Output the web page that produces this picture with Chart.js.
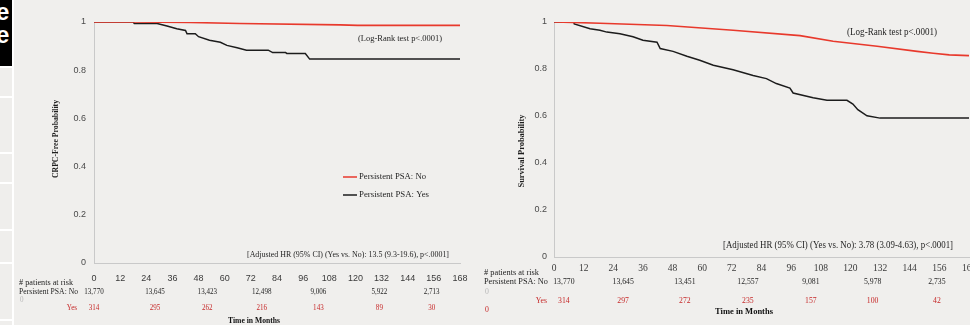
<!DOCTYPE html>
<html><head><meta charset="utf-8">
<script src="https://cdn.jsdelivr.net/npm/chart.js@4/dist/chart.umd.min.js"></script>
<style>
html,body{margin:0;padding:0;width:970px;height:325px;overflow:hidden;background:#f0efed;position:relative;}
#strip{position:absolute;left:0;top:0;width:14px;height:325px;background:#ffffff;overflow:hidden;}
.cell{position:absolute;left:0;width:12px;background:#efeeec;}
#blk{position:absolute;left:0;top:0;width:12px;height:66px;background:#000;overflow:hidden;}
.e{position:absolute;left:-4px;color:#fff;font:bold 24px "Liberation Sans",Arial,sans-serif;line-height:24px;}
canvas{position:absolute;top:0;}
#c1{left:14px;}
#c2{left:480px;}
</style></head>
<body>
<div id="strip">
  <div id="blk"><div class="e" style="top:0px">e</div><div class="e" style="top:23px">e</div></div>
  <div class="cell" style="top:68px;height:28px"></div>
  <div class="cell" style="top:98px;height:54px"></div>
  <div class="cell" style="top:154px;height:28px"></div>
  <div class="cell" style="top:184px;height:45px"></div>
  <div class="cell" style="top:231px;height:31px"></div>
  <div class="cell" style="top:264px;height:55px"></div>
  <div class="cell" style="top:321px;height:10px"></div>
</div>
<canvas id="c1" width="466" height="325"></canvas>
<canvas id="c2" width="520" height="325"></canvas>
<script>
// ---------- DATA ----------
const xTickLabels = ['0','12','24','36','48','60','72','84','96','108','120','132','144','156','168'];
const yTickLabels = ['0','0.2','0.4','0.6','0.8','1'];
const seriesNames = ['Persistent PSA: No','Persistent PSA: Yes'];

// Left panel: CRPC-free probability
const leftNoT  = [0, 18, 44, 67, 113, 121, 168];
const leftNoP  = [1, 1, 0.998, 0.994, 0.988, 0.986, 0.986];
const leftYesT = [0, 18, 18.5, 29, 33.5, 38, 42, 42.7, 46.5, 48, 53, 58, 61, 65.7, 70, 80, 82, 88, 88.5, 97, 99, 168];
const leftYesP = [1, 1, 0.994, 0.994, 0.983, 0.972, 0.965, 0.951, 0.951, 0.939, 0.924, 0.916, 0.903, 0.893, 0.883, 0.883, 0.873, 0.873, 0.869, 0.869, 0.846, 0.846];
const leftRiskT   = [0, 28, 52, 77, 103, 131, 155];
const leftRiskNo  = ['13,770','13,645','13,423','12,498','9,006','5,922','2,713'];
const leftRiskYes = ['314','295','262','216','143','89','30'];
const leftLogRank = '(Log-Rank test p<.0001)';
const leftHR = '[Adjusted HR (95% CI) (Yes vs. No): 13.5 (9.3-19.6), p<.0001]';
const leftYTitle = 'CRPC-Free Probability';

// Right panel: survival probability
const rightNoT  = [0, 18.6, 45.7, 72.5, 99.6, 113, 130.8, 147, 153.5, 160, 168];
const rightNoP  = [1, 0.995, 0.985, 0.965, 0.942, 0.918, 0.897, 0.875, 0.867, 0.860, 0.857];
const rightYesT = [0, 8, 8.2, 14.6, 18.6, 21.4, 26.7, 32, 36, 41.7, 43, 48.2, 53.8, 59, 64.5, 72.5, 80.6, 86, 90, 95.5, 96.8, 104.9, 110.5, 118.6, 121, 123, 126.7, 132, 168];
const rightYesP = [1, 1, 0.992, 0.971, 0.965, 0.957, 0.950, 0.937, 0.922, 0.914, 0.887, 0.875, 0.854, 0.837, 0.816, 0.797, 0.772, 0.759, 0.738, 0.719, 0.698, 0.678, 0.667, 0.667, 0.651, 0.627, 0.601, 0.591, 0.591];
const rightRiskT   = [4, 28, 53, 78.5, 104, 129, 155];
const rightRiskNo  = ['13,770','13,645','13,451','12,557','9,081','5,978','2,735'];
const rightRiskYes = ['314','297','272','235','157','100','42'];
const rightLogRank = '(Log-Rank test p<.0001)';
const rightHR = '[Adjusted HR (95% CI) (Yes vs. No): 3.78 (3.09-4.63), p<.0001]';
const rightYTitle = 'Survival Probability';

const riskHeader = '# patients at risk';
const riskRowNo = 'Persistent PSA: No';
const riskRowYes = 'Yes';
const xTitle = 'Time in Months';

// ---------- STYLE ----------
const RED = '#e8392c', BLACK = '#1c1c1c', TXT = '#1e1e1e', RTXT = '#c62828', AXIS = '#c9c9c9';
const SERIF = '"Liberation Serif","Times New Roman",serif';
const SANS = '"Liberation Sans",Arial,sans-serif';

function pts(t, p){ return t.map((v,i)=>({x:v, y:p[i]})); }

// draw text at a given font size, compressed horizontally to a given width (0 = natural)
function fitText(ctx, s, x, y, size, width, weight, color, align, rot){
  ctx.save();
  ctx.font = weight + ' ' + size + 'px ' + SERIF;
  ctx.fillStyle = color; ctx.textBaseline = 'middle'; ctx.textAlign = align || 'left';
  const w = ctx.measureText(s).width;
  const sx = width ? width / w : 0.88;
  ctx.translate(x, y);
  if (rot) ctx.rotate(rot);
  ctx.scale(sx, 1);
  ctx.fillText(s, 0, 0);
  ctx.restore();
}

function makeOverlay(L){
  return {
    id:'overlay',
    afterDraw(chart){
      const ctx = chart.ctx, xs = chart.scales.x;
      fitText(ctx, L.logrank, L.lrX, L.lrY, L.lrS, L.lrW, 'normal', TXT);
      fitText(ctx, L.hr, L.hrX, L.hrY, L.hrS, L.hrW, 'normal', TXT);
      fitText(ctx, L.ytitle, L.ytX, L.ytY, 9, L.ytW, 'bold', TXT, 'center', -Math.PI/2);
      if (L.legend){
        chart.data.datasets.forEach((ds,i)=>{
          const y = L.legY + i*L.legDy;
          ctx.save();
          ctx.strokeStyle = ds.borderColor; ctx.lineWidth = 1.5;
          ctx.beginPath(); ctx.moveTo(L.legX, y); ctx.lineTo(L.legX+14, y); ctx.stroke();
          ctx.restore();
          fitText(ctx, ds.label, L.legX+16, y, 9, i===0 ? L.legW : L.legW2, 'normal', TXT);
        });
      }
      fitText(ctx, riskHeader, L.rx, L.rHeadY, 8.5, L.rHeadW, 'normal', TXT);
      fitText(ctx, riskRowNo, L.rx, L.rNoY, 8.5, L.rNoW, 'normal', TXT);
      fitText(ctx, '0', L.rx+1, L.rZeroY, L.numS, 0, 'normal', '#b8b8b8');
      fitText(ctx, riskRowYes, L.rYesX, L.rYesY, L.numS, 0, 'normal', RTXT, 'right');
      if (L.redZeroY) fitText(ctx, '0', L.rx+1, L.redZeroY, L.numS, 0, 'normal', RTXT);
      L.riskT.forEach((t,i)=>{
        const px = xs.getPixelForValue(t);
        fitText(ctx, L.riskNo[i], px, L.rNoY, L.numS, 0, 'normal', TXT, 'center');
        fitText(ctx, L.riskYes[i], px, L.rYesY, L.numS, 0, 'normal', RTXT, 'center');
      });
      fitText(ctx, xTitle, L.xtX, L.xtY, 9, L.xtW, 'bold', '#111', 'center');
    }
  };
}

function makeChart(id, noT, noP, yesT, yesP, cfg){
  return new Chart(document.getElementById(id), {
    type:'line',
    data:{datasets:[
      {label:seriesNames[0], data:pts(noT,noP), borderColor:RED, borderWidth:1.6, pointRadius:0, tension:0, fill:false},
      {label:seriesNames[1], data:pts(yesT,yesP), borderColor:BLACK, borderWidth:1.5, pointRadius:0, tension:0, fill:false}
    ]},
    options:{
      responsive:false, animation:false, devicePixelRatio:1,
      layout:{padding:{left:0, top:cfg.top, right:cfg.padR, bottom:0}},
      plugins:{legend:{display:false}, tooltip:{enabled:false}},
      scales:{
        x:{type:'linear', min:0, max:168,
           ticks:{stepSize:12, autoSkip:false, maxRotation:0, padding:cfg.xPad, color:'#3a3a3a', font:cfg.xFont,
                  callback:(v)=>xTickLabels[Math.round(v/12)]},
           grid:{display:false, drawTicks:false}, border:{display:true, color:AXIS, width:1},
           afterFit(s){ s.height = cfg.xH; }},
        y:{min:0, max:1,
           ticks:{stepSize:0.2, padding:cfg.yPad, color:'#4a4a4a', font:cfg.yFont,
                  callback:(v)=>yTickLabels[Math.round(v*5)]},
           grid:{display:false, drawTicks:false}, border:{display:true, color:AXIS, width:1},
           afterFit(s){ s.width = cfg.yW; }}
      }
    },
    plugins:[makeOverlay(cfg.L)]
  });
}

makeChart('c1', leftNoT, leftNoP, leftYesT, leftYesP, {
  top:22, padR:20, xH:62, yW:80, xPad:10, yPad:8,
  xFont:{family:SANS, size:9}, yFont:{family:SANS, size:9},
  L:{logrank:leftLogRank, lrX:344, lrY:39, lrS:9, lrW:84,
     hr:leftHR, hrX:233, hrY:255, hrS:9, hrW:202,
     ytitle:leftYTitle, ytX:42, ytY:139, ytW:78,
     legend:true, legX:329, legY:177, legDy:18, legW:67, legW2:70,
     rx:5, rHeadY:283, rHeadW:54, rNoY:292, rNoW:59, rZeroY:300, rYesX:63, rYesY:308,
     numS:8,
     riskT:leftRiskT, riskNo:leftRiskNo, riskYes:leftRiskYes,
     xtX:240, xtY:321, xtW:52}
});

makeChart('c2', rightNoT, rightNoP, rightYesT, rightYesP, {
  top:22, padR:31, xH:68, yW:74, xPad:6, yPad:7,
  xFont:{family:SERIF, size:9.5}, yFont:{family:SANS, size:9},
  L:{logrank:rightLogRank, lrX:367, lrY:32, lrS:9.5, lrW:90,
     hr:rightHR, hrX:243, hrY:245, hrS:9.5, hrW:230,
     ytitle:rightYTitle, ytX:42, ytY:151, ytW:73,
     legend:false,
     rx:4, rHeadY:273, rHeadW:55, rNoY:282, rNoW:64, rZeroY:292, rYesX:67, rYesY:301, redZeroY:310,
     numS:8.8,
     riskT:rightRiskT, riskNo:rightRiskNo, riskYes:rightRiskYes,
     xtX:264, xtY:312, xtW:58}
});
</script>
</body></html>
